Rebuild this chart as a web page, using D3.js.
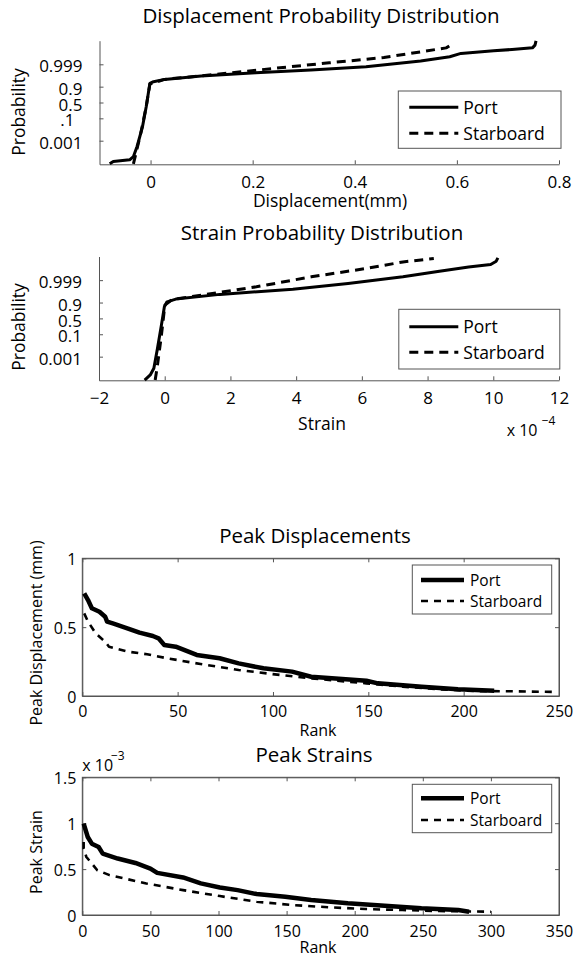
<!DOCTYPE html>
<html><head><meta charset="utf-8">
<script src="https://cdn.jsdelivr.net/npm/d3@7"></script>
<style>
body{margin:0;background:#fff}
svg{display:block}
text{font-family:'Open Sans',sans-serif;fill:#000}
</style>
</head><body>
<svg id="c" width="573" height="962"></svg>
<script>
// ---------- DATA ----------
// Displacement probability plot (x in mm, y as standard normal quantile)
const dispPortX = [-0.080,-0.073,-0.041,-0.0335,-0.0264,-0.0157,-0.0085,-0.0013,0.0058,0.0274,0.099,0.206,0.314,0.422,0.529,0.586,0.608,0.672,0.708,0.748,0.753,0.755];
const dispPortZ = [-4.96,-4.77,-4.64,-4.37,-3.56,-1.95,-0.34,1.55,1.68,1.87,2.14,2.40,2.62,2.89,3.35,3.70,3.97,4.18,4.29,4.42,4.64,4.98];
const dispStbdX = [-0.0336,-0.0285,-0.0192,-0.0085,-0.0013,0.0274,0.135,0.242,0.350,0.457,0.529,0.579,0.588,0.590];
const dispStbdZ = [-4.96,-4.10,-2.49,-0.34,1.50,1.87,2.30,2.76,3.21,3.64,4.10,4.42,4.64,4.90];
// Strain probability plot (x in units of 1e-4)
const strPortX = [-0.61,-0.44,-0.33,-0.22,-0.10,-0.01,0.07,0.34,1.68,3.90,5.58,7.25,8.36,9.25,9.92,10.09,10.14];
const strPortZ = [-4.98,-4.57,-4.03,-2.42,-0.54,0.94,1.34,1.56,1.94,2.36,2.82,3.36,3.81,4.16,4.35,4.62,4.89];
const strStbdX = [-0.29,-0.22,-0.10,0.005,0.23,1.68,2.79,4.46,6.13,7.25,8.19];
const strStbdZ = [-4.98,-3.77,-1.35,1.07,1.53,2.10,2.55,3.36,4.03,4.56,4.84];
const probTickValues = [0.001,0.1,0.5,0.9,0.999];
const probTickLabels1 = ["0.001",".1","0.5","0.9","0.999"];
const probTickLabels2 = ["0.001","0.1","0.5","0.9","0.999"];
const dispTicks = [0,0.2,0.4,0.6,0.8];
const strainTicks = [-2,0,2,4,6,8,10,12];
// Peak displacements (mm) vs rank
const pdPortRank = [1,3,5,9,12,13,16,24,30,37,40,43,49,60,72,82,95,110,120,149,155,178,197,216];
const pdPortVal  = [0.746,0.697,0.637,0.612,0.576,0.540,0.527,0.490,0.460,0.436,0.419,0.370,0.358,0.298,0.274,0.237,0.201,0.177,0.140,0.111,0.092,0.068,0.049,0.039];
const pdStbdRank = [1,3,7,12,14,24,34,43,62,82,101,120,149,168,187,206,226,249];
const pdStbdVal  = [0.600,0.540,0.455,0.394,0.358,0.322,0.303,0.278,0.232,0.189,0.157,0.128,0.092,0.068,0.049,0.036,0.034,0.029];
// Peak strains (units of 1e-3) vs rank
const psPortRank = [1,4,7,12,15,26,39,50,55,74,87,101,114,128,149,168,195,222,249,276,284];
const psPortVal  = [0.995,0.850,0.777,0.741,0.669,0.615,0.567,0.506,0.459,0.409,0.344,0.300,0.271,0.228,0.199,0.163,0.127,0.101,0.073,0.054,0.036];
const psStbdRank = [1,1,3,7,11,20,47,74,101,128,155,182,208,235,262,300];
const psStbdVal  = [0.795,0.723,0.632,0.560,0.488,0.434,0.344,0.271,0.206,0.144,0.108,0.083,0.065,0.054,0.043,0.036];
const rankTicks1 = [0,50,100,150,200,250];
const rankTicks2 = [0,50,100,150,200,250,300,350];
const pdTicks = [0,0.5,1];
const psTicks = [0,0.5,1,1.5];
const seriesNames = ["Port","Starboard"];

// ---------- HELPERS ----------
const svg = d3.select('#c');
const AX = '#555';

function probit(p){
  const a=[-3.969683028665376e+01,2.209460984245205e+02,-2.759285104469687e+02,1.383577518672690e+02,-3.066479806614716e+01,2.506628277386058e+00];
  const b=[-5.447609879822406e+01,1.615858368580409e+02,-1.556989798598866e+02,6.680131188771972e+01,-1.328068155288572e+01];
  const c=[-7.784894002430293e-03,-3.223964580411365e-01,-2.400758277161838e+00,-2.549732539343734e+00,4.374664141464968e+00,2.938163982698783e+00];
  const d=[7.784695709041462e-03,3.224671290700398e-01,2.445134137142996e+00,3.754408661907416e+00];
  const pl=0.02425;
  let q,r;
  if(p<pl){q=Math.sqrt(-2*Math.log(p));return (((((c[0]*q+c[1])*q+c[2])*q+c[3])*q+c[4])*q+c[5])/((((d[0]*q+d[1])*q+d[2])*q+d[3])*q+1);}
  if(p<=1-pl){q=p-0.5;r=q*q;return (((((a[0]*r+a[1])*r+a[2])*r+a[3])*r+a[4])*r+a[5])*q/(((((b[0]*r+b[1])*r+b[2])*r+b[3])*r+b[4])*r+1);}
  q=Math.sqrt(-2*Math.log(1-p));return -(((((c[0]*q+c[1])*q+c[2])*q+c[3])*q+c[4])*q+c[5])/((((d[0]*q+d[1])*q+d[2])*q+d[3])*q+1);
}

function styleAxis(g){
  g.select('.domain').attr('stroke',AX).attr('stroke-width',1);
  g.selectAll('.tick line').attr('stroke',AX).attr('stroke-width',1);
}

function drawLine(xs, ys, x, y, width, dash){
  const pts = xs.map((v,i)=>[v,ys[i]]);
  svg.append('path').datum(pts)
    .attr('d', d3.line().x(d=>x(d[0])).y(d=>y(d[1])))
    .attr('fill','none').attr('stroke','#000').attr('stroke-width',width)
    .attr('stroke-linejoin','round')
    .attr('stroke-dasharray', dash || null);
}

function legend(box, ys, lx0, lx1, tx, fs, widths, dashes){
  svg.append('rect').attr('x',box[0]).attr('y',box[1])
    .attr('width',box[2]-box[0]).attr('height',box[3]-box[1])
    .attr('fill','#fff').attr('stroke',AX).attr('stroke-width',1);
  seriesNames.forEach((n,i)=>{
    svg.append('line').attr('x1',lx0).attr('x2',lx1).attr('y1',ys[i]).attr('y2',ys[i])
      .attr('stroke','#000').attr('stroke-width',widths[i]).attr('stroke-dasharray',dashes[i]||null);
    svg.append('text').attr('x',tx).attr('y',ys[i]).attr('dy','0.36em')
      .attr('font-size',fs).text(n);
  });
}

function text(x,y,str,fs,anchor,rot){
  const t = svg.append('text').attr('font-size',fs).attr('text-anchor',anchor||'middle').text(str);
  if(rot) t.attr('transform',`translate(${x},${y}) rotate(-90)`);
  else t.attr('x',x).attr('y',y);
  return t;
}

// ---------- PROBABILITY PLOTS ----------
function probPlot(xDom, xR, yR, xTicks, xFmt, labels, data, tickBase){
  const x = d3.scaleLinear().domain(xDom).range(xR);
  const y = d3.scaleLinear().domain([-5,5]).range(yR);
  const gx = svg.append('g').attr('transform',`translate(0,${yR[0]})`)
    .call(d3.axisBottom(x).tickValues(xTicks).tickFormat(xFmt).tickSizeInner(-4).tickSizeOuter(0));
  styleAxis(gx);
  gx.selectAll('.tick text').attr('font-size',17).attr('font-family',"'Open Sans',sans-serif")
    .attr('y',tickBase).attr('dy',0).attr('fill','#000');
  const gy = svg.append('g').attr('transform',`translate(${xR[0]},0)`)
    .call(d3.axisLeft(y).tickValues(probTickValues.map(probit)).tickFormat((d,i)=>labels[i])
      .tickSizeInner(-4).tickSizeOuter(0).tickPadding(17));
  styleAxis(gy);
  gy.selectAll('.tick text').attr('font-size',17).attr('font-family',"'Open Sans',sans-serif")
    .attr('dy','0.45em').attr('fill','#000')
    .attr('x',d=>labels[probTickValues.map(probit).indexOf(d)].startsWith('.') ? -25 : -17);
  drawLine(data[0], data[1], x, y, 3, null);
  drawLine(data[2], data[3], x, y, 3, '9,6');
}

// Chart 1
probPlot([-0.1,0.8],[99.5,559],[164.3,40.7],dispTicks,d=>d3.format('')(d),probTickLabels1,
  [dispPortX,dispPortZ,dispStbdX,dispStbdZ],23.7);
text(321,23,'Displacement Probability Distribution',20.5);
text(330,207,'Displacement(mm)',17.5);
text(25,112,'Probability',17.5,'middle',true);
legend([398.3,91,561,148.3],[107.3,133.3],409.3,458.3,463.3,17.5,[3,3],[null,'9,6']);

// Chart 2
probPlot([-2,12],[99,559],[380.3,256.5],strainTicks,d=>d<0?'\u2212'+Math.abs(d):String(d),probTickLabels2,
  [strPortX,strPortZ,strStbdX,strStbdZ],23.3);
text(322,240,'Strain Probability Distribution',20.5);
text(322,430,'Strain',17.5);
text(25,327,'Probability',17.5,'middle',true);
legend([398.8,309.3,559.8,369],[326.7,352.3],409.3,458.3,463.3,17.5,[3,3],[null,'9,6']);
text(506.7,435.7,'x 10',16,'start');
text(541.7,425,'\u22124',12,'start');

// ---------- PEAK PLOTS ----------
function peakPlot(xDom, yDom, xR, yR, xTicks, yTicks, data, tickBase){
  const x = d3.scaleLinear().domain(xDom).range(xR);
  const y = d3.scaleLinear().domain(yDom).range(yR);
  svg.append('rect').attr('x',xR[0]).attr('y',yR[1]).attr('width',xR[1]-xR[0]).attr('height',yR[0]-yR[1])
    .attr('fill','none').attr('stroke',AX).attr('stroke-width',1);
  const gb = svg.append('g').attr('transform',`translate(0,${yR[0]})`)
    .call(d3.axisBottom(x).tickValues(xTicks).tickSizeInner(-4).tickSizeOuter(0).tickFormat(d3.format('')));
  styleAxis(gb);
  gb.selectAll('.tick text').attr('font-size',16).attr('font-family',"'Open Sans',sans-serif")
    .attr('y',tickBase).attr('dy',0).attr('fill','#000');
  const gt = svg.append('g').attr('transform',`translate(0,${yR[1]})`)
    .call(d3.axisTop(x).tickValues(xTicks).tickSizeInner(-4).tickSizeOuter(0).tickFormat(''));
  styleAxis(gt);
  const gl = svg.append('g').attr('transform',`translate(${xR[0]},0)`)
    .call(d3.axisLeft(y).tickValues(yTicks).tickSizeInner(-4).tickSizeOuter(0).tickPadding(6).tickFormat(d3.format('')));
  styleAxis(gl);
  gl.selectAll('.tick text').attr('font-size',16).attr('font-family',"'Open Sans',sans-serif")
    .attr('dy','0.4em').attr('fill','#000');
  const gr = svg.append('g').attr('transform',`translate(${xR[1]},0)`)
    .call(d3.axisRight(y).tickValues(yTicks).tickSizeInner(-4).tickSizeOuter(0).tickFormat(''));
  styleAxis(gr);
  drawLine(data[0], data[1], x, y, 4.5, null);
  drawLine(data[2], data[3], x, y, 2.6, '7,6');
}

// Chart 3
peakPlot([0,250],[0,1],[82.3,559],[696,558.3],rankTicks1,pdTicks,
  [pdPortRank,pdPortVal,pdStbdRank,pdStbdVal],20.7);
text(315,543,'Peak Displacements',20.5);
text(318,736,'Rank',16);
text(42,633,'Peak Displacement (mm)',16,'middle',true);
legend([412.3,565,551.7,614],[580,601],421,464,470,15.5,[4.5,2.6],[null,'7,6']);

// Chart 4
peakPlot([0,350],[0,1.5],[82.3,559],[915,777.3],rankTicks2,psTicks,
  [psPortRank,psPortVal,psStbdRank,psStbdVal],21.7);
text(314,762,'Peak Strains',20.5);
text(318,953,'Rank',16);
text(42,852,'Peak Strain',16,'middle',true);
legend([412.3,784.3,551.7,832.7],[798.3,820],421,464,470,15.5,[4.5,2.6],[null,'7,6']);
text(82.3,770.7,'x 10',16,'start');
text(111,760,'\u22123',12,'start');
</script>
</body></html>
